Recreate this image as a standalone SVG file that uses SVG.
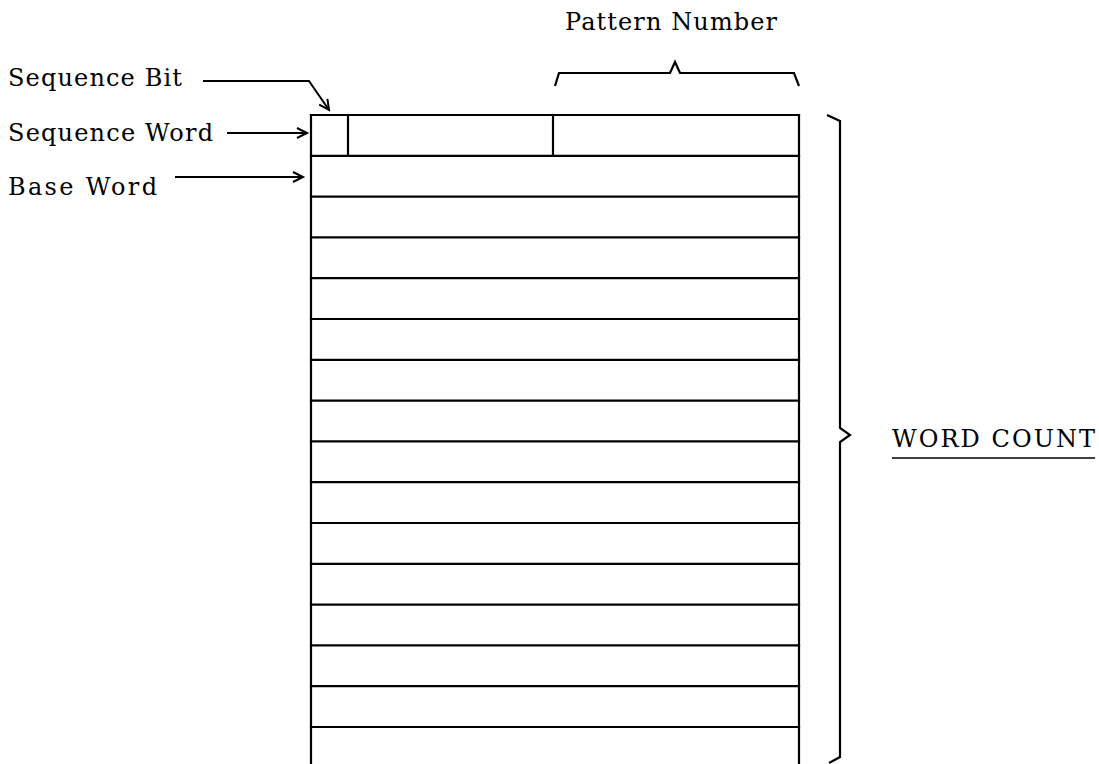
<svg xmlns="http://www.w3.org/2000/svg" width="1099" height="764" viewBox="0 0 1099 764">
<defs>
<style>
.ln{stroke:#000;stroke-width:2.2;fill:none;stroke-linecap:square}
.br{stroke:#000;stroke-width:2.2;fill:none;stroke-linejoin:miter}
.con{stroke:#000;stroke-width:2;fill:none}
.t{font-family:"DejaVu Serif","Liberation Serif",serif;font-size:24px;fill:#000}
</style>
<marker id="ah" markerWidth="14" markerHeight="12" refX="11" refY="6" orient="auto" markerUnits="userSpaceOnUse">
<path d="M1,1 L11,6 L1,11" stroke="#000" stroke-width="2" fill="none"/>
</marker>
</defs>
<rect width="1099" height="764" fill="#fff"/>

<g id="labels">
<text class="t" x="8" y="86" textLength="174" lengthAdjust="spacing">Sequence Bit</text>
<text class="t" x="8" y="141" textLength="205" lengthAdjust="spacing">Sequence Word</text>
<text class="t" x="8" y="195" textLength="149" lengthAdjust="spacing">Base Word</text>
<text class="t" x="565" y="30" textLength="212" lengthAdjust="spacing">Pattern Number</text>
</g>

<g id="word-table">
<line class="ln" x1="311" y1="115" x2="799" y2="115"/>
<line class="ln" x1="311" y1="115" x2="311" y2="764"/>
<line class="ln" x1="799" y1="115" x2="799" y2="764"/>
<line class="ln" x1="348" y1="115" x2="348" y2="155"/>
<line class="ln" x1="553" y1="115" x2="553" y2="155"/>
<line class="ln" x1="311" y1="155.8" x2="799" y2="155.8"/>
<line class="ln" x1="311" y1="196.6" x2="799" y2="196.6"/>
<line class="ln" x1="311" y1="237.4" x2="799" y2="237.4"/>
<line class="ln" x1="311" y1="278.2" x2="799" y2="278.2"/>
<line class="ln" x1="311" y1="319" x2="799" y2="319"/>
<line class="ln" x1="311" y1="359.8" x2="799" y2="359.8"/>
<line class="ln" x1="311" y1="400.6" x2="799" y2="400.6"/>
<line class="ln" x1="311" y1="441.4" x2="799" y2="441.4"/>
<line class="ln" x1="311" y1="482.2" x2="799" y2="482.2"/>
<line class="ln" x1="311" y1="523" x2="799" y2="523"/>
<line class="ln" x1="311" y1="563.8" x2="799" y2="563.8"/>
<line class="ln" x1="311" y1="604.6" x2="799" y2="604.6"/>
<line class="ln" x1="311" y1="645.4" x2="799" y2="645.4"/>
<line class="ln" x1="311" y1="686.2" x2="799" y2="686.2"/>
<line class="ln" x1="311" y1="727" x2="799" y2="727"/>
</g>

<g id="pattern-brace">
<path class="br" d="M555,86 L559,73 L670,73 L675,62 L680,73 L794,73 L799,86"/>
</g>

<g id="word-count">
<path class="br" d="M827,115 L840,121 L840,428 L850,435 L840,442 L840,757 L829,763"/>
<text class="t" x="892" y="447" textLength="203" lengthAdjust="spacing">WORD COUNT</text>
<line x1="892" y1="458" x2="1095" y2="458" stroke="#000" stroke-width="1.6"/>
</g>

<g id="connectors">
<path class="con" d="M203,81 L309,81 L329,110" marker-end="url(#ah)"/>
<line class="con" x1="227" y1="133" x2="307" y2="133" marker-end="url(#ah)"/>
<line class="con" x1="175" y1="177" x2="303" y2="177" marker-end="url(#ah)"/>
</g>
</svg>
